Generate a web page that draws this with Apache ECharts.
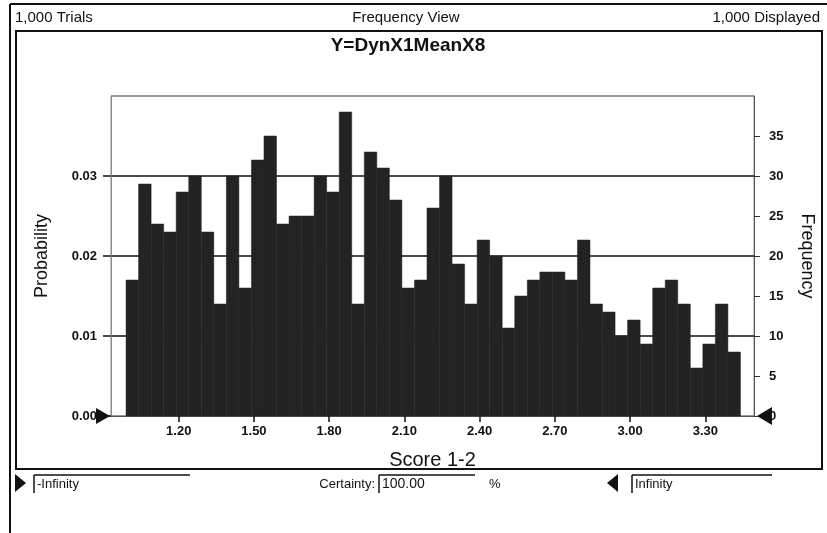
<!DOCTYPE html>
<html>
<head>
<meta charset="utf-8">
<script src="https://cdn.jsdelivr.net/npm/echarts@6/dist/echarts.min.js"></script>
<style>
html,body{margin:0;padding:0;background:#fff;}
#c{width:827px;height:533px;}
</style>
</head>
<body>
<div id="c"></div>
<script>
// ---- data ----
const binEdges = [0.99,1.04,1.09,1.14,1.19,1.24,1.29,1.34,1.39,1.44,1.49,1.54,1.59,1.64,1.69,1.74,1.79,1.84,1.89,1.94,1.99,2.04,2.09,2.14,2.19,2.24,2.29,2.34,2.39,2.44,2.49,2.54,2.59,2.64,2.69,2.74,2.79,2.84,2.89,2.94,2.99,3.04,3.09,3.14,3.19,3.24,3.29,3.34,3.39,3.44];
const frequency = [17,29,24,23,28,30,23,14,30,16,32,35,24,25,25,30,28,38,14,33,31,27,16,17,26,30,19,14,22,20,11,15,17,18,18,17,22,14,13,10,12,9,16,17,14,6,9,14,8];
const xTickValues = [1.20,1.50,1.80,2.10,2.40,2.70,3.00,3.30];
const titleText = 'Y=DynX1MeanX8';
const trialsText = '1,000 Trials';
const viewText = 'Frequency View';
const displayedText = '1,000 Displayed';
const certaintyValue = '100.00';

const barData = frequency.map((f, i) => [binEdges[i], binEdges[i + 1], f]);

const FONT = '"Liberation Sans", Arial, sans-serif';
const chart = echarts.init(document.getElementById('c'), null, {renderer: 'canvas'});

chart.setOption({
  animation: false,
  backgroundColor: '#ffffff',
  grid: {left: 111, right: 73, top: 96, bottom: 117, show: true, borderColor: '#8a8a8a', borderWidth: 1},
  xAxis: {
    type: 'value', min: 0.93, max: 3.494,
    name: 'Score 1-2', nameLocation: 'middle', nameGap: 34,
    nameTextStyle: {fontFamily: FONT, fontSize: 20, color: '#111'},
    axisLine: {show: true, lineStyle: {color: '#555', width: 1}},
    axisTick: {show: true, customValues: xTickValues, length: 6, inside: false, lineStyle: {color: '#111', width: 1.5}},
    axisLabel: {customValues: xTickValues, formatter: v => v.toFixed(2), fontFamily: FONT, fontSize: 13, fontWeight: 'bold', color: '#111', margin: 9},
    splitLine: {show: false}
  },
  yAxis: [
    {
      type: 'value', min: 0, max: 0.04, interval: 0.01, position: 'left',
      name: 'Probability', nameLocation: 'middle', nameGap: 60,
      nameTextStyle: {fontFamily: FONT, fontSize: 18, color: '#111'},
      axisLine: {show: true, lineStyle: {color: '#8a8a8a'}},
      axisTick: {show: true, length: 8, lineStyle: {color: '#111', width: 1.5}},
      axisLabel: {showMaxLabel: false, formatter: v => v.toFixed(2), fontFamily: FONT, fontSize: 13, fontWeight: 'bold', color: '#111', margin: 14},
      splitLine: {show: true, lineStyle: {color: ['#8a8a8a', '#111', '#111', '#111', '#8a8a8a'], width: 1.5}}
    },
    {
      type: 'value', min: 0, max: 40, interval: 5, position: 'right',
      name: 'Frequency', nameLocation: 'middle', nameGap: 44, nameRotate: -90,
      nameTextStyle: {fontFamily: FONT, fontSize: 18, color: '#111'},
      axisLine: {show: true, lineStyle: {color: '#555'}},
      axisTick: {show: true, length: 6, lineStyle: {color: '#333', width: 1}},
      axisLabel: {showMaxLabel: false, fontFamily: FONT, fontSize: 13, fontWeight: 'bold', color: '#111', margin: 15},
      splitLine: {show: false}
    }
  ],
  series: [{
    type: 'custom',
    xAxisIndex: 0, yAxisIndex: 1,
    data: barData,
    encode: {x: [0, 1], y: 2},
    renderItem: function (params, api) {
      const p0 = api.coord([api.value(0), 0]);
      const p1 = api.coord([api.value(1), api.value(2)]);
      return {
        type: 'rect',
        shape: {x: p0[0], y: p1[1], width: p1[0] - p0[0], height: p0[1] - p1[1]},
        style: {fill: '#232323', stroke: '#232323', lineWidth: 0.5}
      };
    },
    z: 3
  }],
  graphic: [
    // outer frame lines
    {type: 'line', shape: {x1: 10, y1: 4, x2: 827, y2: 4}, style: {stroke: '#111', lineWidth: 2}},
    {type: 'line', shape: {x1: 10, y1: 4, x2: 10, y2: 533}, style: {stroke: '#111', lineWidth: 2}},
    // chart box
    {type: 'rect', shape: {x: 16, y: 31, width: 806, height: 438}, style: {fill: 'none', stroke: '#111', lineWidth: 2}},
    // header texts
    {type: 'text', x: 15, y: 18, style: {text: trialsText, font: '15px ' + FONT, fill: '#111', verticalAlign: 'middle'}},
    {type: 'text', x: 406, y: 18, style: {text: viewText, font: '15px ' + FONT, fill: '#111', align: 'center', verticalAlign: 'middle'}},
    {type: 'text', x: 820, y: 18, style: {text: displayedText, font: '15px ' + FONT, fill: '#111', align: 'right', verticalAlign: 'middle'}},
    // title
    {type: 'text', x: 408, y: 46, style: {text: titleText, font: 'bold 19px ' + FONT, fill: '#111', align: 'center', verticalAlign: 'middle'}},
    // axis markers
    {type: 'polygon', shape: {points: [[96, 408], [110, 416], [96, 424]]}, style: {fill: '#111'}, z: 10},
    {type: 'polygon', shape: {points: [[772, 407], [757, 416], [772, 425]]}, style: {fill: '#111'}, z: 10},
    // bottom controls
    {type: 'polygon', shape: {points: [[15, 474], [26, 483], [15, 492]]}, style: {fill: '#111'}},
    {type: 'line', shape: {x1: 34, y1: 475, x2: 190, y2: 475}, style: {stroke: '#111', lineWidth: 1.5}},
    {type: 'line', shape: {x1: 34, y1: 475, x2: 34, y2: 493}, style: {stroke: '#111', lineWidth: 1.5}},
    {type: 'text', x: 37, y: 484, style: {text: '-Infinity', font: '13px ' + FONT, fill: '#111', verticalAlign: 'middle'}},
    {type: 'text', x: 375, y: 484, style: {text: 'Certainty:', font: '13px ' + FONT, fill: '#111', align: 'right', verticalAlign: 'middle'}},
    {type: 'line', shape: {x1: 379, y1: 475, x2: 475, y2: 475}, style: {stroke: '#111', lineWidth: 1.5}},
    {type: 'line', shape: {x1: 379, y1: 475, x2: 379, y2: 493}, style: {stroke: '#111', lineWidth: 1.5}},
    {type: 'text', x: 382, y: 484, style: {text: certaintyValue, font: '14px ' + FONT, fill: '#111', verticalAlign: 'middle'}},
    {type: 'text', x: 489, y: 484, style: {text: '%', font: '13px ' + FONT, fill: '#111', verticalAlign: 'middle'}},
    {type: 'polygon', shape: {points: [[618, 474], [607, 483], [618, 492]]}, style: {fill: '#111'}},
    {type: 'line', shape: {x1: 632, y1: 475, x2: 772, y2: 475}, style: {stroke: '#111', lineWidth: 1.5}},
    {type: 'line', shape: {x1: 632, y1: 475, x2: 632, y2: 493}, style: {stroke: '#111', lineWidth: 1.5}},
    {type: 'text', x: 635, y: 484, style: {text: 'Infinity', font: '13px ' + FONT, fill: '#111', verticalAlign: 'middle'}}
  ]
});
</script>
</body>
</html>
